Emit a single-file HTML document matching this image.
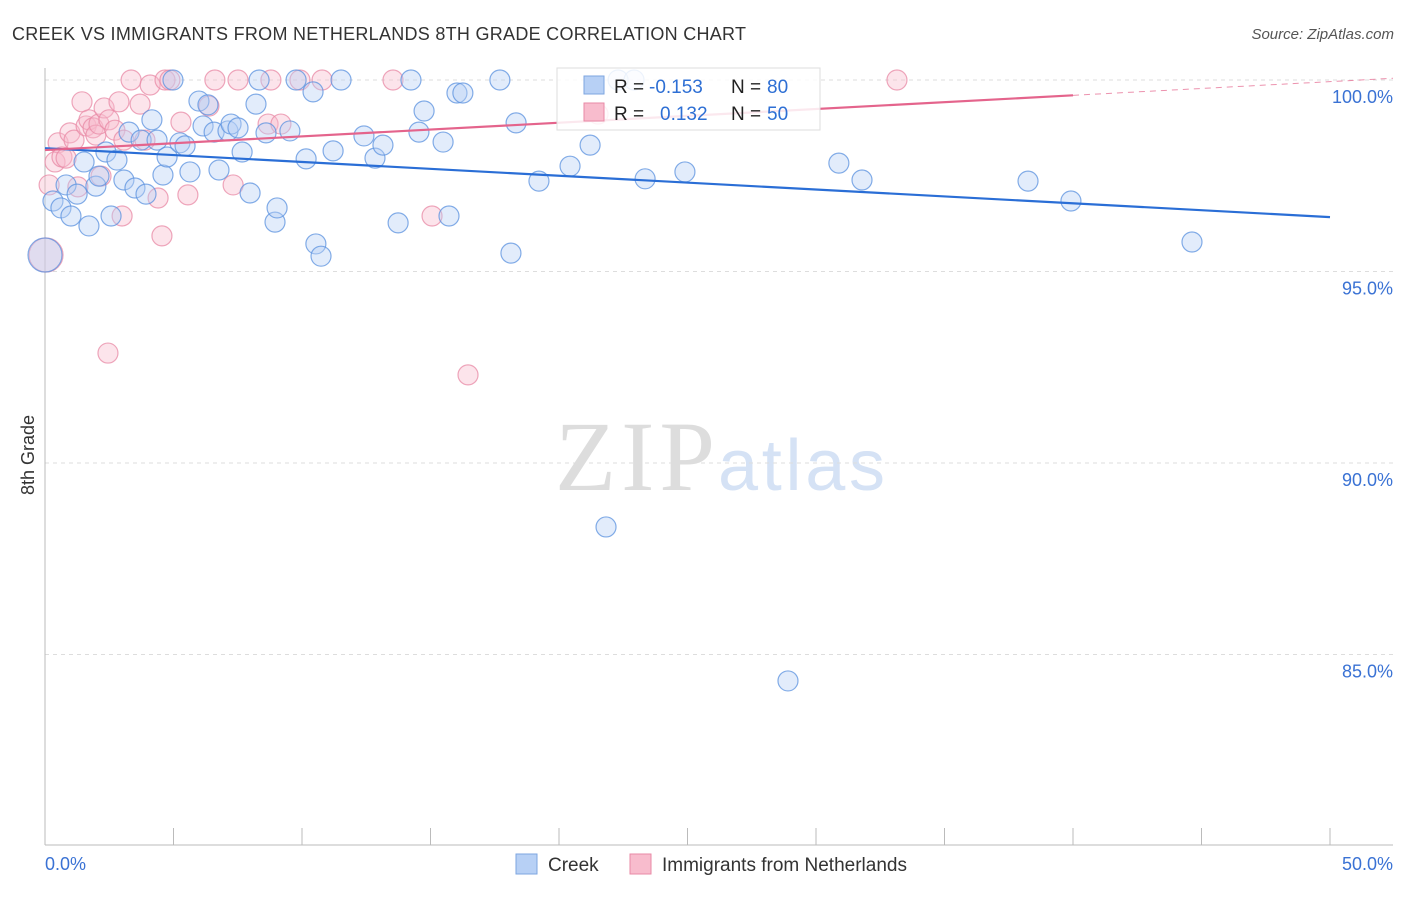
<!DOCTYPE html>
<html><head><meta charset="utf-8"><style>
body{margin:0;background:#fff;font-family:"Liberation Sans",sans-serif}
</style></head><body>
<svg id="chart" width="1406" height="892" xmlns="http://www.w3.org/2000/svg">
<text x="12" y="40" font-size="18" fill="#333" textLength="734">CREEK VS IMMIGRANTS FROM NETHERLANDS 8TH GRADE CORRELATION CHART</text>
<text x="1394" y="39" font-size="15" fill="#555" font-style="italic" text-anchor="end">Source: ZipAtlas.com</text>
<text x="555" y="490" font-size="100" fill="#ddd" font-family="Liberation Serif" textLength="160">ZIP</text>
<text x="718" y="490" font-size="72" fill="#d5e2f5" textLength="167">atlas</text>
<text transform="translate(34,455) rotate(-90)" font-size="18" fill="#333" text-anchor="middle">8th Grade</text>
<g id="grid"></g><g id="marks"></g><g id="lines"></g>
<g>
<rect x="557" y="68" width="263" height="62" fill="#fff" stroke="#ddd" fill-opacity="0.85"/>
<rect x="584" y="76" width="20" height="18" fill="#b7d0f5" stroke="#7ea6e0"/>
<rect x="584" y="103" width="20" height="18" fill="#f8bccd" stroke="#e88aa6"/>
<text x="614" y="93" font-size="19" fill="#222">R =</text>
<text x="649" y="93" font-size="19" fill="#2e6fd4">-0.153</text>
<text x="731" y="93" font-size="19" fill="#222">N =</text>
<text x="767" y="93" font-size="19" fill="#2e6fd4">80</text>
<text x="614" y="120" font-size="19" fill="#222">R =</text>
<text x="660" y="120" font-size="19" fill="#2e6fd4">0.132</text>
<text x="731" y="120" font-size="19" fill="#222">N =</text>
<text x="767" y="120" font-size="19" fill="#2e6fd4">50</text>
</g>
<g>
<rect x="516" y="854" width="21" height="20" fill="#b7d0f5" stroke="#7ea6e0"/>
<text x="548" y="871" font-size="19" fill="#333">Creek</text>
<rect x="630" y="854" width="21" height="20" fill="#f8bccd" stroke="#e88aa6"/>
<text x="662" y="871" font-size="19" fill="#333">Immigrants from Netherlands</text>
</g>
</svg>
<script>
const yTicks=[100,95,90,85];
const yTickLabels=["100.0%","95.0%","90.0%","85.0%"];
const xTickVals=[0,5,10,15,20,25,30,35,40,45,50];
const creekX=[0.31,0.62,0.82,1.01,1.25,1.52,1.71,1.98,2.10,2.37,2.57,2.80,3.07,3.27,3.50,3.74,3.93,4.16,4.36,4.59,4.75,4.98,5.25,5.45,5.64,5.99,6.15,6.34,6.58,6.77,7.12,7.24,7.51,7.67,7.98,8.21,8.33,8.60,8.95,9.03,9.53,9.77,10.16,10.43,10.54,10.74,11.21,11.52,12.41,12.84,13.15,13.74,14.24,14.55,14.75,15.49,15.72,16.03,16.26,17.70,18.13,18.33,19.22,20.43,21.21,21.83,22.30,22.92,23.35,24.90,28.91,30.89,31.79,38.25,39.92,44.63,0.0];
const creekY=[96.84,96.66,97.26,96.45,97.02,97.86,96.19,97.23,97.49,98.12,96.45,97.91,97.39,98.64,97.18,98.43,97.02,98.96,98.43,97.52,97.99,100,98.36,98.28,97.60,99.45,98.80,99.35,98.64,97.65,98.67,98.85,98.75,98.12,97.05,99.37,100,98.62,96.29,96.66,98.67,100,97.94,99.69,95.72,95.40,98.15,100,98.54,97.96,98.30,96.27,100,98.64,99.19,98.38,96.45,99.66,99.66,100,95.48,98.88,97.36,97.75,98.30,88.33,100,100,97.42,97.60,84.31,97.83,97.39,97.36,96.84,95.77,95.43];
const nethX=[0.04,0.16,0.39,0.51,0.66,0.82,0.97,1.13,1.28,1.44,1.60,1.71,1.87,1.98,2.10,2.18,2.30,2.45,2.49,2.72,2.88,3.00,3.07,3.35,3.70,3.89,4.09,4.40,4.55,4.67,4.86,5.29,5.56,6.38,6.61,7.32,7.51,8.68,8.79,9.18,9.92,10.78,13.54,15.06,16.46,21.52,33.15];
const nethY=[95.43,97.26,97.86,98.36,97.99,97.96,98.62,98.43,97.21,99.43,98.80,98.96,98.75,98.56,98.85,97.49,99.27,92.87,98.96,98.69,99.43,96.45,98.43,100,99.37,98.43,99.87,96.92,95.93,100,100,98.90,97.00,99.32,100,97.26,100,98.85,100,98.85,100,100,100,96.45,92.30,99.11,100];
const creekTrend=[98.22,96.42];
const nethTrend=[98.17,99.60];
const X=v=>45+v*25.7, Y=v=>80+(100-v)*38.3;
const NS="http://www.w3.org/2000/svg";
function mk(t,a,p){const e=document.createElementNS(NS,t);for(const k in a)e.setAttribute(k,a[k]);p.appendChild(e);return e;}
const grid=document.getElementById('grid'),marks=document.getElementById('marks'),lines=document.getElementById('lines');
yTicks.forEach((t,i)=>{
 const l=mk('line',{x1:45,x2:1393,y1:Y(t),y2:Y(t),stroke:'#ddd','stroke-dasharray':'4,4'},grid);
 
 
 const tx=mk('text',{x:1393,y:Y(t)+23,'font-size':18,fill:'#3a72d4','text-anchor':'end'},grid);
 tx.textContent=yTickLabels[i];
 
 
});
mk('line',{x1:45,x2:45,y1:68,y2:845,stroke:'#bbb'},grid);
mk('line',{x1:45,x2:1393,y1:845,y2:845,stroke:'#bbb'},grid);
xTickVals.forEach(v=>{const t=mk('line',{x1:X(v),x2:X(v),y1:828,y2:845,stroke:'#bbb'},grid);
 
 });
let a=mk('text',{x:45,y:870,'font-size':18,fill:'#3a72d4'},grid);a.textContent='0.0%';


a=mk('text',{x:1393,y:870,'font-size':18,fill:'#3a72d4','text-anchor':'end'},grid);a.textContent='50.0%';


function pts(xs,ys,fill,stroke,name){xs.forEach((x,i)=>{
 const r=(x<0.05&&ys[i]<95.6)?17:10;
 const c=mk('circle',{cx:X(x),cy:Y(ys[i]),r:r,fill:fill,'fill-opacity':0.4,stroke:stroke,'stroke-opacity':0.75,'stroke-width':1.2},marks);
 
 
});}
pts(nethX,nethY,'#f8bccd','#e88aa6','netherlands-point');
pts(creekX,creekY,'#b7d0f5','#5b92df','creek-point');
let l=mk('line',{x1:X(0),y1:Y(creekTrend[0]),x2:X(50),y2:Y(creekTrend[1]),stroke:'#2a6ed6','stroke-width':2.2},lines);


l=mk('line',{x1:X(0),y1:Y(nethTrend[0]),x2:X(40),y2:Y(nethTrend[1]),stroke:'#e4648c','stroke-width':2.2},lines);


const s=(nethTrend[1]-nethTrend[0])/40;
l=mk('line',{x1:X(40),y1:Y(nethTrend[1]),x2:1393,y2:Y(nethTrend[0]+s*(1393-45)/25.7),stroke:'#e4648c','stroke-width':1,'stroke-dasharray':'6,5','stroke-opacity':0.7},lines);


</script>
</body></html>
